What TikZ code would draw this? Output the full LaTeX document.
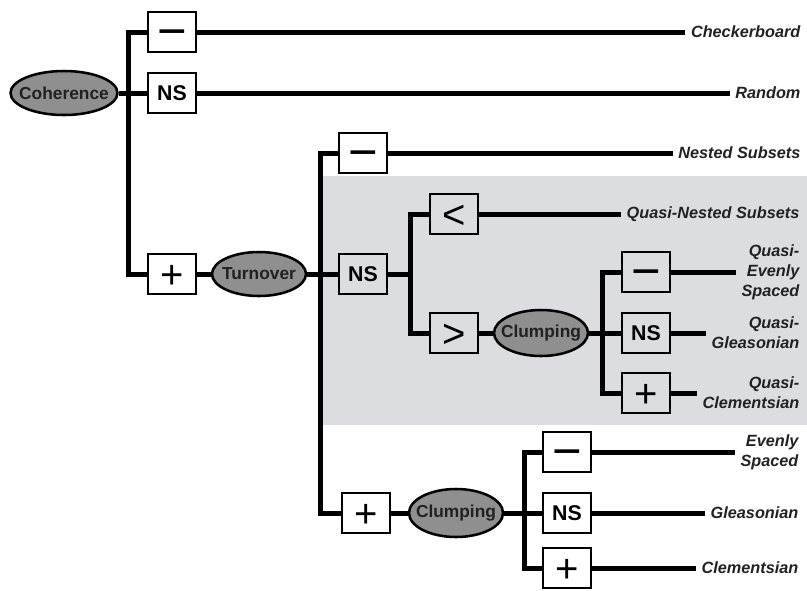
\documentclass[tikz,border=0pt]{standalone}
\usepackage{fontspec}
\setmainfont{Liberation Sans}
\usetikzlibrary{shapes.geometric}
\definecolor{ellfill}{gray}{0.56}
\definecolor{bgshade}{RGB}{220,221,223}
\definecolor{ink}{gray}{0.13}
\newcommand\glyphsym[3]{{\fontsize{#1}{#1}\selectfont\raisebox{-#2em}{#3}}}
\newcommand\minussym{\glyphsym{38}{0.33}{−}}
\newcommand\plussym{\glyphsym{30}{0.353}{+}}
\newcommand\lesssym{\glyphsym{30}{0.353}{<}}
\newcommand\moresym{\glyphsym{30}{0.353}{>}}
\newcommand\elltext[1]{\makebox[0pt][c]{#1}}
\begin{document}
\begin{tikzpicture}[x=0.75pt,y=-0.75pt,
  wire/.style={line width=3.75pt, line join=miter},
  sbox/.style={draw, line width=2pt, minimum width=36pt, minimum height=30pt, inner sep=0pt, text height=0pt, text depth=0pt},
  nsbox/.style={draw, line width=2pt, minimum width=36pt, minimum height=30pt, inner sep=0pt, font=\fontsize{16}{16}\selectfont\bfseries},
  ell/.style={ellipse, draw, line width=1.9pt, fill=ellfill, minimum width=70.5pt, minimum height=33pt, inner sep=0pt, text=ink, font=\fontsize{13}{13}\selectfont\bfseries},
  lab/.style={anchor=east, inner sep=4pt, align=right, text=ink, font=\fontsize{12.2}{15}\selectfont\bfseries\itshape}]
\useasboundingbox (0,0) rectangle (807,590);
\fill[white] (0,0) rectangle (807,590);
\fill[bgshade] (321,176) rectangle (807,425);
% level 1
\node[ell, minimum width=80.25pt] (coh) at (64,93) {\elltext{Coherence}};
\node[sbox] (c1) at (172,32) {\minussym};
\node[nsbox] (c2) at (172,93) {NS};
\node[sbox] (c3) at (172,274) {\plussym};
\coordinate (j1) at (128,93);
\node[lab] (l1) at (806,32) {Checkerboard};
\node[lab] (l2) at (806,93) {Random};
% turnover
\node[ell] (turn) at (259,274) {\elltext{Turnover}};
\coordinate (j2) at (320,274);
\node[sbox] (t1) at (363,153) {\minussym};
\node[nsbox] (t2) at (363,274) {NS};
\node[sbox] (t3) at (366,513) {\plussym};
\node[lab] (l3) at (806,153) {Nested Subsets};
% quasi
\coordinate (j3) at (410,274);
\node[sbox] (q1) at (454,214) {\lesssym};
\node[sbox] (q2) at (454,333) {\moresym};
\node[lab] (l4) at (805,214) {Quasi-Nested Subsets};
\node[ell, minimum height=34.5pt] (clq) at (541,333) {\elltext{Clumping}};
\coordinate (j4) at (602,333);
\node[sbox] (r1) at (646,272) {\minussym};
\node[nsbox] (r2) at (646,333) {NS};
\node[sbox] (r3) at (646,393) {\plussym};
\node[lab] (l5) at (805,272) {Quasi-\\Evenly\\Spaced};
\node[lab] (l6) at (805,333) {Quasi-\\Gleasonian};
\node[lab] (l7) at (805,393) {Quasi-\\Clementsian};
% bottom
\node[ell, minimum height=36pt] (clb) at (456,513) {\elltext{Clumping}};
\coordinate (j5) at (524,513);
\node[sbox] (b1) at (567,452) {\minussym};
\node[nsbox] (b2) at (567,513) {NS};
\node[sbox] (b3) at (567,568) {\plussym};
\node[lab] (l8) at (804,452) {Evenly\\Spaced};
\node[lab] (l9) at (804,513) {Gleasonian};
\node[lab] (l10) at (804,568) {Clementsian};
% wires
\draw[wire] (coh.east) -- (c2.west);
\draw[wire] (c1.west) -| (j1) |- (c3.west);
\draw[wire] (c1.east) -- (l1.west);
\draw[wire] (c2.east) -- (l2.west);
\draw[wire] (c3.east) -- (turn.west);
\draw[wire] (turn.east) -- (t2.west);
\draw[wire] (t1.west) -| (j2) |- (t3.west);
\draw[wire] (t1.east) -- (l3.west);
\draw[wire] (t2.east) -- (j3);
\draw[wire] (q1.west) -| (j3) |- (q2.west);
\draw[wire] (q1.east) -- (l4.west);
\draw[wire] (q2.east) -- (clq.west);
\draw[wire] (clq.east) -- (r2.west);
\draw[wire] (r1.west) -| (j4) |- (r3.west);
\draw[wire] (r1.east) -- (l5.west);
\draw[wire] (r2.east) -- (l6.west);
\draw[wire] (r3.east) -- (l7.west);
\draw[wire] (t3.east) -- (clb.west);
\draw[wire] (clb.east) -- (b2.west);
\draw[wire] (b1.west) -| (j5) |- (b3.west);
\draw[wire] (b1.east) -- (l8.west);
\draw[wire] (b2.east) -- (l9.west);
\draw[wire] (b3.east) -- (l10.west);
\end{tikzpicture}
\end{document}
